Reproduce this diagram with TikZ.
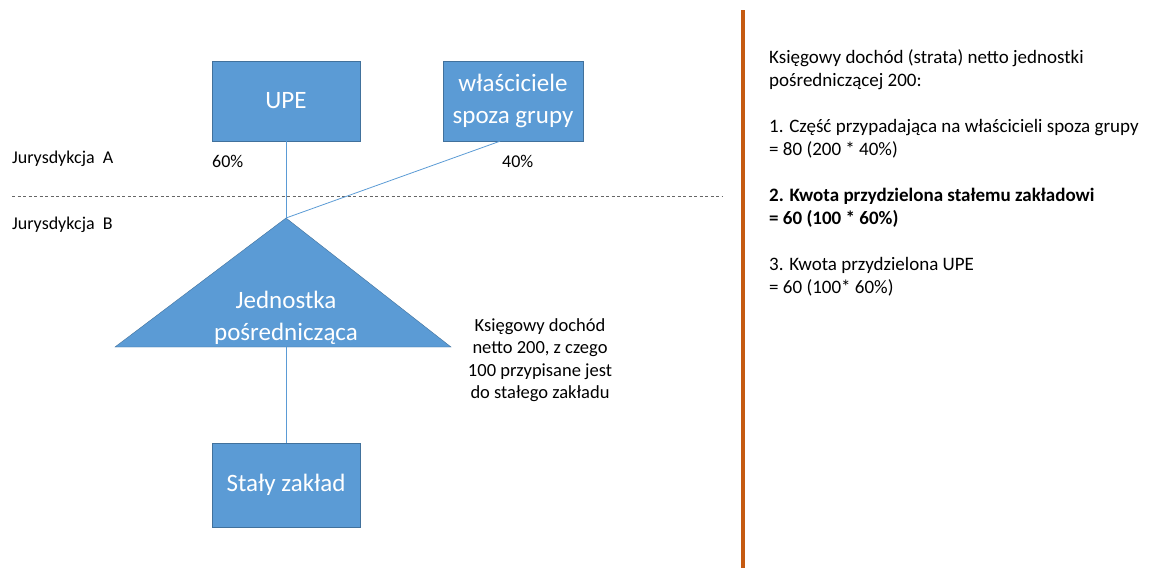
\documentclass[tikz,border=0pt]{standalone}
\usepackage{fontspec}
\setmainfont{Carlito}
\usepackage{tikz}
\usetikzlibrary{positioning}
\definecolor{boxblue}{RGB}{91,155,213}
\definecolor{boxedge}{RGB}{65,113,156}
\definecolor{sepline}{RGB}{197,90,17}

\begin{document}
\begin{tikzpicture}[
    x=1pt, y=-1pt,
    font=\fontsize{18}{23}\selectfont,
    entity/.style={draw=boxedge, fill=boxblue, text=white, minimum width=148pt, minimum height=80pt, align=center, font=\fontsize{25}{32}\selectfont},
    label/.style={inner sep=0pt, align=left},
    link/.style={draw=boxblue, line width=0.8pt},
  ]
    \useasboundingbox (0,0) rectangle (1152,571);

    \node[entity] (upe) at (286,101) {UPE};
    \node[entity, minimum width=140pt] (owners) at (513,101) {właściciele\\spoza grupy};
    \node[entity, minimum height=84pt] (pe) at (286,485) {Stały zakład};

    % triangle for the intermediate entity
    \coordinate (apex) at (286,218);
    \coordinate (base) at (286,347);
    \draw[boxedge, fill=boxblue] (apex) -- (451,347) -- (115,347) -- cycle;
    \node[text=white, align=center, font=\fontsize{25}{32}\selectfont] (ipe) at (286,318) {Jednostka\\pośrednicząca};

    \node[label, anchor=west] (jura) at (12,159) {Jurysdykcja\ \ A};
    \node[label, anchor=west] (jurb) at (12,225) {Jurysdykcja\ \ B};
    \node[label, anchor=west] (pctupe) at (212,161) {60\%};
    \node[label, anchor=west] (pctown) at (502,161) {40\%};

    \node[label, align=center, font=\fontsize{18.5}{22.5}\selectfont] (income) at (540,360) {Księgowy dochód\\netto 200, z czego\\100 przypisane jest\\do stałego zakładu};

    \node[label, anchor=north west, font=\fontsize{19}{23}\selectfont] (calc) at (769,49) {
      Księgowy dochód (strata) netto jednostki\\
      pośredniczącej 200:\\[23pt]
      1. Część przypadająca na właścicieli spoza grupy\\
      = 80 (200 * 40\%)\\[23pt]
      \textbf{2. Kwota przydzielona stałemu zakładowi}\\
      \textbf{= 60 (100 * 60\%)}\\[23pt]
      3. Kwota przydzielona UPE\\
      = 60 (100* 60\%)
    };

    \coordinate (dashl) at (12,196);
    \coordinate (dashr) at (722,196);
    \draw[gray!80!black, line width=0.7pt, dash pattern=on 3pt off 2.5pt] (dashl) -- (dashr);

    \coordinate (sept) at (743,10);
    \coordinate (sepb) at (743,568);
    \draw[sepline, line width=4pt] (sept) -- (sepb);

    \draw[link] (upe.south) -- (apex);
    \draw[link] ([xshift=-13pt]owners.south) -- (apex);
    \draw[link] (base) -- (pe.north);
  \end{tikzpicture}
\end{document}
